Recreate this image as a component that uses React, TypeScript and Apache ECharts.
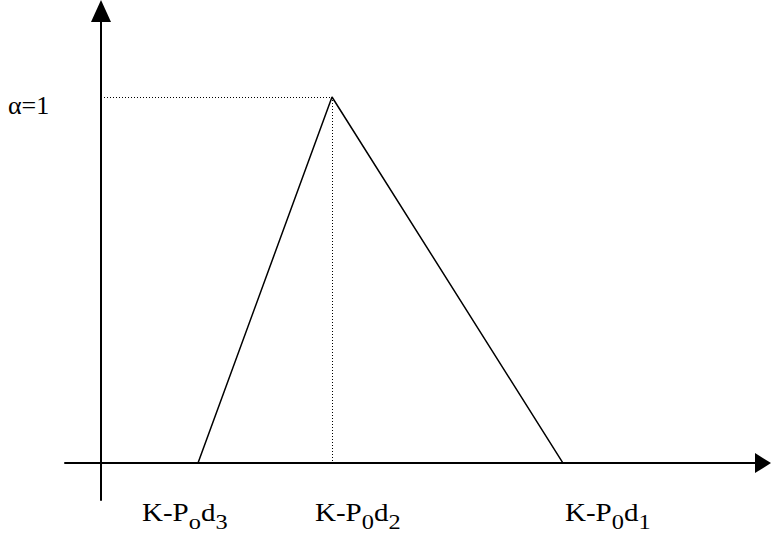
import React, { useEffect, useRef } from "react";
import * as echarts from "echarts";

// Triangle membership function: x positions (relative to y axis) and membership values
const pointNames = ["K-Pod3", "K-P0d2", "K-P0d1"];
const xValues = [97, 231, 462];
const yValues = [0, 1, 0];
// Tick labels (rich-text markup for subscripts)
const xTickLabels = ["{main|K-P}{sub|o}{main|d}{sub|3}", "{main|K-P}{sub|0}{main|d}{sub|2}", "{main|K-P}{sub|0}{main|d}{sub|1}"];
const yTickLabel = "α=1";
const peakValue = 1;

const FONT = "Liberation Serif";

export default function App() {
  const ref = useRef<HTMLDivElement>(null);
  useEffect(() => {
    if (!ref.current) return;
    const chart = echarts.init(ref.current, null, { renderer: "svg" });
    const seriesData = xValues.map((x, i) => [x, yValues[i]]);
    const peakIdx = yValues.indexOf(peakValue);
    const peakX = xValues[peakIdx];
    const labelLefts = [142, 315, 565];
    const richStyle = {
      main: { fontSize: 25, lineHeight: 33, verticalAlign: "top", fontFamily: FONT, fill: "#000" },
      sub: { fontSize: 21, lineHeight: 33, verticalAlign: "bottom", fontFamily: FONT, fill: "#000" },
    };
    chart.setOption({
      animation: false,
      backgroundColor: "#fff",
      grid: { left: 65, top: 11, right: 8, bottom: 35, containLabel: false, outerBoundsMode: "none" },
      xAxis: {
        type: "value",
        min: -36,
        max: 662,
        axisLine: {
          show: true,
          onZero: true,
          symbol: ["none", "triangle"],
          symbolSize: [20, 16],
          lineStyle: { color: "#000", width: 2 },
        },
        axisTick: { show: false },
        axisLabel: { show: false },
        splitLine: { show: false },
      },
      yAxis: {
        type: "value",
        min: -0.101,
        max: 1.235,
        axisLine: {
          show: true,
          onZero: true,
          symbol: ["none", "triangle"],
          symbolSize: [20, 22],
          lineStyle: { color: "#000", width: 2 },
        },
        axisTick: { show: false },
        axisLabel: { show: false },
        splitLine: { show: false },
      },
      series: [
        {
          type: "line",
          name: "membership",
          data: seriesData,
          symbol: "none",
          lineStyle: { color: "#000", width: 1.5 },
          markLine: {
            silent: true,
            symbol: ["none", "none"],
            label: { show: false },
            lineStyle: { color: "#000", width: 1, type: [1, 2] },
            data: [
              [{ coord: [0, peakValue] }, { coord: [peakX, peakValue] }],
              [{ coord: [peakX, peakValue] }, { coord: [peakX, 0] }],
            ],
          },
        },
      ],
      graphic: [
        {
          type: "text",
          x: 8,
          y: 105,
          style: {
            text: yTickLabel,
            fontSize: 26,
            fontFamily: FONT,
            fill: "#000",
            verticalAlign: "middle",
            align: "left",
          },
        },
        ...xTickLabels.map((t, i) => ({
          type: "text",
          name: pointNames[i],
          x: labelLefts[i],
          y: 500,
          scaleX: 1.16,
          style: {
            text: t,
            rich: richStyle,
            align: "left",
            verticalAlign: "top",
          },
        })),
      ],
    });
    return () => chart.dispose();
  }, []);
  return (
    <div
      ref={ref}
      style={{ position: "absolute", left: 0, top: 0, width: 771, height: 535, background: "#fff" }}
    />
  );
}
